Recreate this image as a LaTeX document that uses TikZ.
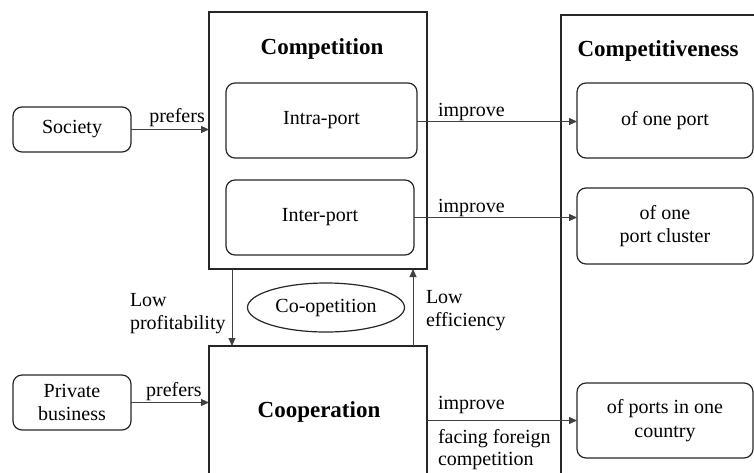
\documentclass[tikz,border=0pt]{standalone}
\usepackage{fontspec}
\setmainfont{Liberation Serif}
\usetikzlibrary{arrows.meta,shapes.geometric}
\begin{document}
\begin{tikzpicture}[x=1pt,y=-1pt,
  every node/.style={font=\fontsize{20}{23.5}\selectfont, inner sep=0pt, outer sep=0pt},
  bigbox/.style={draw=black!85, line width=1.3pt, rectangle, anchor=north west},
  rbox/.style={draw=black!85, line width=1.2pt, rounded corners=9pt, align=center},
  ttl/.style={font=\fontsize{23}{27}\selectfont\bfseries},
  conn/.style={draw=black!75, line width=0.9pt, -{Triangle[length=8pt,width=7pt]}},
  lbl/.style={align=left}
]
\useasboundingbox (0,0) rectangle (754,472);
\begin{scope}
\clip (0,0) rectangle (754,472);
% big boxes
\node[bigbox, minimum width=218pt, minimum height=257pt] (comp) at (209,12) {};
\node[bigbox, minimum width=218pt, minimum height=140pt] (coop) at (209,346) {};
\node[bigbox, minimum width=220pt, minimum height=470pt] (compv) at (561,15) {};
\end{scope}
% titles
\node[ttl] (comptitle) at (322,49) {Competition};
\node[ttl] (compvtitle) at (658,51) {Competitiveness};
\node[ttl] (cooptitle) at (319,412) {Cooperation};
% inner boxes
\node[rbox, minimum width=118pt, minimum height=45pt] (soc) at (72,129.5) {Society};
\node[rbox, minimum width=118pt, minimum height=55pt] (priv) at (72,402.5) {Private\\business};
\node[rbox, minimum width=191pt, minimum height=75pt] (intra) at (321.5,120.5) {Intra-port};
\node[rbox, minimum width=188pt, minimum height=75pt] (inter) at (320,217.5) {Inter-port};
\node[rbox, minimum width=176pt, minimum height=75pt] (one) at (665,120.5) {of one port};
\node[rbox, minimum width=176pt, minimum height=76pt] (cluster) at (665,226) {of one\\port cluster};
\node[rbox, minimum width=176pt, minimum height=75pt] (country) at (665,420.5) {of ports in one\\country};
\node[draw=black!85, line width=1.2pt, ellipse, minimum width=157pt, minimum height=49pt] (coopet) at (326,307.5) {Co-opetition};
% connectors
\draw[conn] (soc.east) -- (soc.east -| comp.west) node[pos=0.59, above=2.5pt] (pref1) {prefers};
\draw[conn] (priv.east) -- (priv.east -| coop.west) node[pos=0.55, above=2pt] (pref2) {prefers};
\draw[conn] ([yshift=-1pt]intra.east) -- ([yshift=-1pt]intra.east -| one.west);
\draw[conn] (inter.east) -- (inter.east -| cluster.west);
\draw[conn] (coop.east |- country.west) -- (country.west);
\draw[conn] ([xshift=23pt]comp.south west) -- ([xshift=23pt]coop.north west);
\draw[conn] ([xshift=-14pt]coop.north east) -- ([xshift=-14pt]comp.south east);
% labels
\node[anchor=base west] (imp1) at (438,116) {improve};
\node[anchor=base west] (imp2) at (438,212) {improve};
\node[anchor=base west] (imp3) at (438,409) {improve};
\node[lbl, anchor=base west] (facing) at (438,443) {facing foreign};
\node[lbl, anchor=base west] (facing2) at (438,465) {competition};
\node[lbl, anchor=north west] (lowprof) at (130,293) {Low\\profitability};
\node[lbl, anchor=north west] (loweff) at (426,290) {Low\\efficiency};
\end{tikzpicture}
\end{document}
